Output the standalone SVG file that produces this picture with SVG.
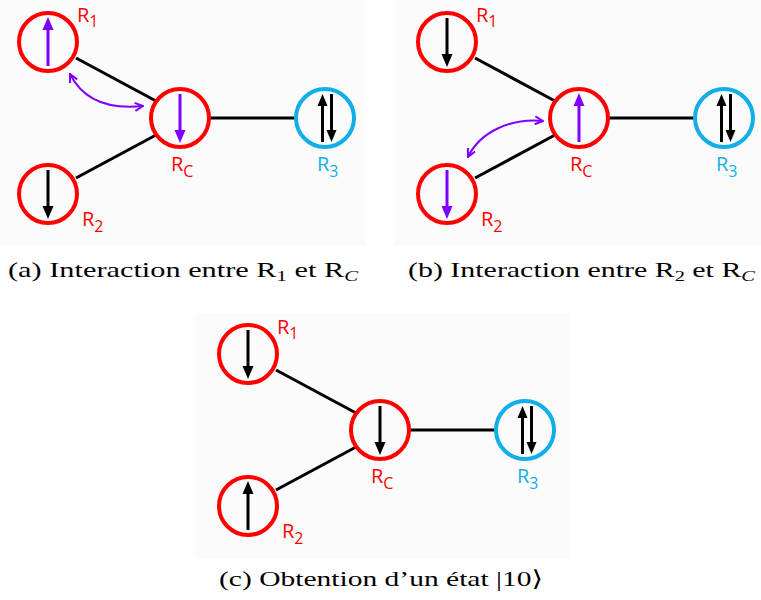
<svg xmlns="http://www.w3.org/2000/svg" width="761" height="600" viewBox="0 0 761 600">
<defs>
<style>
.bg{fill:#fbfbfb}
.red{fill:none;stroke:#ff0000;stroke-width:4}
.blue{fill:none;stroke:#12aee8;stroke-width:4}
.edge{stroke:#000;stroke-width:3;fill:none}
.shaftK{stroke:#000;stroke-width:3}
.shaftP{stroke:#7f00ff;stroke-width:3}
.headK{fill:#000}
.headP{fill:#7f00ff}
.lblR{font-family:"Open Sans","Liberation Sans",sans-serif;font-size:20px;fill:#ff0000}
.lblB{font-family:"Open Sans","Liberation Sans",sans-serif;font-size:20px;fill:#12aee8}
.sub{font-size:16px}
.cap{font-family:"Liberation Serif","DejaVu Serif",serif;font-size:22px;fill:#000}
.capsub{font-size:15px}
.curve{fill:none;stroke:#7f00ff;stroke-width:2}
</style>
<marker id="open" viewBox="0 0 10 10" refX="9" refY="5" markerWidth="5" markerHeight="5" orient="auto-start-reverse" markerUnits="strokeWidth">
<path d="M1,1 L9,5 L1,9" fill="none" stroke="#7f00ff" stroke-width="2"/>
</marker>
<g id="up-k"><line class="shaftK" x1="0" y1="24" x2="0" y2="-12"/><path class="headK" d="M-5.5,-12 L5.5,-12 L0,-25 Z"/></g>
<g id="down-k"><line class="shaftK" x1="0" y1="-24" x2="0" y2="12"/><path class="headK" d="M-5.5,12 L5.5,12 L0,25 Z"/></g>
<g id="up-p"><line class="shaftP" x1="0" y1="24" x2="0" y2="-12"/><path class="headP" d="M-5.5,-12 L5.5,-12 L0,-25 Z"/></g>
<g id="down-p"><line class="shaftP" x1="0" y1="-24" x2="0" y2="12"/><path class="headP" d="M-5.5,12 L5.5,12 L0,25 Z"/></g>
<g id="updown"><line class="shaftK" x1="-4.5" y1="24" x2="-4.5" y2="-12"/><path class="headK" d="M-9.5,-12 L0.5,-12 L-4.5,-24 Z"/><line class="shaftK" x1="4.5" y1="-24" x2="4.5" y2="12"/><path class="headK" d="M-0.5,12 L9.5,12 L4.5,24 Z"/></g>
</defs>
<rect width="761" height="600" fill="#ffffff"/>
<rect class="bg" x="0" y="0" width="365" height="246"/>
<rect class="bg" x="395" y="0" width="366" height="246"/>
<rect class="bg" x="195" y="313" width="376" height="246"/>

<!-- Panel a -->
<g id="panel-a">
<g id="a-connectors">
<line class="edge" x1="76" y1="58" x2="156" y2="101"/>
<line class="edge" x1="76" y1="178" x2="156" y2="135"/>
<line class="edge" x1="210" y1="118" x2="295" y2="118"/>
<path class="curve" d="M70,74 C82,98 105,110 143,106" marker-start="url(#open)" marker-end="url(#open)"/>
</g>
<g id="a-R1"><circle class="red" cx="48" cy="42" r="29"/><use href="#up-p" x="48" y="42"/><text class="lblR" x="77" y="22">R<tspan class="sub" dy="5">1</tspan></text></g>
<g id="a-RC"><circle class="red" cx="180" cy="118" r="29"/><use href="#down-p" x="180" y="118"/><text class="lblR" x="171" y="171">R<tspan class="sub" dy="6">C</tspan></text></g>
<g id="a-R2"><circle class="red" cx="48" cy="194" r="29"/><use href="#down-k" x="48" y="194"/><text class="lblR" x="82" y="226">R<tspan class="sub" dy="6">2</tspan></text></g>
<g id="a-R3"><circle class="blue" cx="325" cy="118" r="29"/><use href="#updown" x="327" y="118"/><text class="lblB" x="317" y="171">R<tspan class="sub" dy="6">3</tspan></text></g>
<text class="cap" x="8" y="277" textLength="350" lengthAdjust="spacingAndGlyphs">(a) Interaction entre R<tspan class="capsub" dy="4">1</tspan><tspan dy="-4"> et R</tspan><tspan class="capsub" dy="4" font-style="italic">C</tspan></text>
</g>

<!-- Panel b -->
<g id="panel-b">
<g id="b-connectors">
<line class="edge" x1="475" y1="58" x2="555" y2="101"/>
<line class="edge" x1="475" y1="178" x2="555" y2="135"/>
<line class="edge" x1="609" y1="118" x2="694" y2="118"/>
<path class="curve" d="M543,121 C510,118 480,132 468,157" marker-start="url(#open)" marker-end="url(#open)"/>
</g>
<g id="b-R1"><circle class="red" cx="447" cy="42" r="29"/><use href="#down-k" x="447" y="42"/><text class="lblR" x="476" y="22">R<tspan class="sub" dy="5">1</tspan></text></g>
<g id="b-RC"><circle class="red" cx="579" cy="118" r="29"/><use href="#up-p" x="579" y="118"/><text class="lblR" x="570" y="171">R<tspan class="sub" dy="6">C</tspan></text></g>
<g id="b-R2"><circle class="red" cx="447" cy="194" r="29"/><use href="#down-p" x="447" y="194"/><text class="lblR" x="481" y="226">R<tspan class="sub" dy="6">2</tspan></text></g>
<g id="b-R3"><circle class="blue" cx="724" cy="118" r="29"/><use href="#updown" x="726" y="118"/><text class="lblB" x="716" y="171">R<tspan class="sub" dy="6">3</tspan></text></g>
<text class="cap" x="408" y="277" textLength="347" lengthAdjust="spacingAndGlyphs">(b) Interaction entre R<tspan class="capsub" dy="4">2</tspan><tspan dy="-4"> et R</tspan><tspan class="capsub" dy="4" font-style="italic">C</tspan></text>
</g>

<!-- Panel c -->
<g id="panel-c">
<g id="c-connectors">
<line class="edge" x1="276" y1="370" x2="356" y2="413"/>
<line class="edge" x1="276" y1="490" x2="356" y2="447"/>
<line class="edge" x1="410" y1="430" x2="495" y2="430"/>
</g>
<g id="c-R1"><circle class="red" cx="248" cy="354" r="29"/><use href="#down-k" x="248" y="354"/><text class="lblR" x="277" y="334">R<tspan class="sub" dy="5">1</tspan></text></g>
<g id="c-RC"><circle class="red" cx="380" cy="430" r="29"/><use href="#down-k" x="380" y="430"/><text class="lblR" x="371" y="483">R<tspan class="sub" dy="6">C</tspan></text></g>
<g id="c-R2"><circle class="red" cx="248" cy="506" r="29"/><use href="#up-k" x="248" y="506"/><text class="lblR" x="282" y="538">R<tspan class="sub" dy="6">2</tspan></text></g>
<g id="c-R3"><circle class="blue" cx="525" cy="430" r="29"/><use href="#updown" x="527" y="430"/><text class="lblB" x="517" y="483">R<tspan class="sub" dy="6">3</tspan></text></g>
<text class="cap" x="219" y="586" textLength="324" lengthAdjust="spacingAndGlyphs">(c) Obtention d’un état |10⟩</text>
</g>
</svg>
